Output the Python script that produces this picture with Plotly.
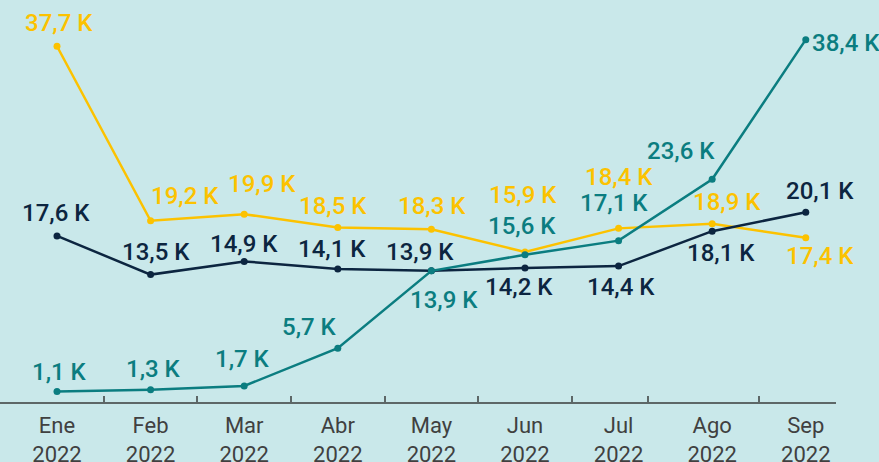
import plotly.graph_objects as go

months = ["Ene", "Feb", "Mar", "Abr", "May", "Jun", "Jul", "Ago", "Sep"]
year = "2022"
yellow_vals = [37.7, 19.2, 19.9, 18.5, 18.3, 15.9, 18.4, 18.9, 17.4]
navy_vals = [17.6, 13.5, 14.9, 14.1, 13.9, 14.2, 14.4, 18.1, 20.1]
teal_vals = [1.1, 1.3, 1.7, 5.7, 13.9, 15.6, 17.1, 23.6, 38.4]
tick_bounds = [0.5, 1.5, 2.5, 3.5, 4.5, 5.5, 6.31, 7.5]

# label offsets in pixels (dx right, dy down) -- styling only
yellow_off = [(2, -23), (34, -25), (18, -30), (-5, -21), (1, -23), (-2, -57), (0, -51), (15, -22), (14, 18)]
navy_off = [(-1, -23), (5, -23), (0, -17), (-6, -20), (-11, -19), (-6, 19), (2, 21), (9, 22), (14, -21)]
teal_off = [(2, -20), (3, -21), (-2, -27), (-28, -21), (13, 29), (-3, -29), (-5, -38), (-31, -28), (40, 3)]

YELLOW = "#fcc200"
NAVY = "#0c2540"
TEAL = "#0b7d80"
BG = "#c9e8ea"
FONT = "Roboto"

x = list(range(len(months)))
fig = go.Figure()
annotations = []


def fmt(v):
    return f"{v:.1f}".replace(".", ",") + " K"


for vals, col, offs in [(yellow_vals, YELLOW, yellow_off),
                        (navy_vals, NAVY, navy_off),
                        (teal_vals, TEAL, teal_off)]:
    fig.add_trace(go.Scatter(
        x=x, y=vals, mode="lines+markers",
        line=dict(color=col, width=2.5),
        marker=dict(color=col, size=7),
        hoverinfo="skip", showlegend=False, cliponaxis=False,
    ))
    for xi, v, (dx, dy) in zip(x, vals, offs):
        annotations.append(dict(
            x=xi, y=v, xref="x", yref="y", text=fmt(v), showarrow=False,
            xanchor="center", yanchor="middle", xshift=dx, yshift=-dy,
            font=dict(family=FONT, size=24, color=col, weight=500),
        ))

# invisible trace for secondary axis (tick marks at boundaries)
fig.add_trace(go.Scatter(x=[0], y=[0], xaxis="x2", mode="markers",
                         marker=dict(opacity=0), hoverinfo="skip", showlegend=False))

xr = [-0.609, 8.323]
fig.update_layout(
    width=879, height=462,
    margin=dict(l=0, r=43, t=0, b=60, pad=0, autoexpand=False),
    paper_bgcolor=BG, plot_bgcolor=BG,
    font=dict(family=FONT),
    annotations=annotations,
    xaxis=dict(
        range=xr, tickmode="array", tickvals=x,
        ticktext=[f"{m}<br>{year}" for m in months],
        showgrid=False, zeroline=False, showline=False, ticks="",
        ticklabelstandoff=8, automargin=False,
        tickfont=dict(family=FONT, size=22, color="#404040"),
    ),
    xaxis2=dict(
        range=xr, overlaying="x", side="bottom", anchor="y",
        tickmode="array", tickvals=tick_bounds, showticklabels=False,
        ticks="inside", ticklen=6, tickwidth=1.5, tickcolor="#5d6767",
        showline=True, linecolor="#5d6767", linewidth=2,
        showgrid=False, zeroline=False, automargin=False,
    ),
    yaxis=dict(range=[0, 42.6], visible=False, showgrid=False, zeroline=False,
               automargin=False),
)

fig.write_html("out.html", config={"displayModeBar": False},
               post_script="document.body.style.margin='0';document.body.style.background='%s';" % BG)
